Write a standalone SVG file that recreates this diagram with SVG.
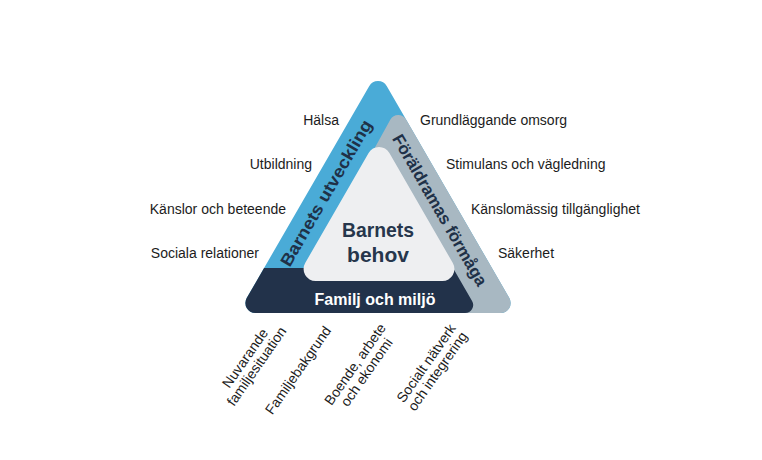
<svg xmlns="http://www.w3.org/2000/svg" width="762" height="460" viewBox="0 0 762 460">
<style>
.lbl{font-family:"Liberation Sans",Arial,sans-serif;font-size:14px;fill:#1c1c1c}
.band{font-family:"Liberation Sans",Arial,sans-serif;font-size:17px;font-weight:bold;fill:#1f3148}
.core{font-family:"Liberation Sans",Arial,sans-serif;font-size:21px;font-weight:bold;fill:#26364c;text-anchor:middle}
.fam{font-family:"Liberation Sans",Arial,sans-serif;font-size:16px;font-weight:bold;fill:#ffffff;text-anchor:middle}
.end{text-anchor:end}
.mid{text-anchor:middle}
</style>
<defs>
<clipPath id="outerClip">
<path d="M369.3,86 L246.7,298 A10,10 0 0,0 255.3,313 L500.7,313 A10,10 0 0,0 509.3,298 L386.7,86 A10,10 0 0,0 369.3,86 Z"/>
</clipPath>
</defs>
<rect width="762" height="460" fill="#ffffff"/>
<g id="triangle">
<g id="outer-blue">
<path d="M369.3,86 L246.7,298 A10,10 0 0,0 255.3,313 L500.7,313 A10,10 0 0,0 509.3,298 L386.7,86 A10,10 0 0,0 369.3,86 Z" fill="#4aabd7"/>
</g>
<g clip-path="url(#outerClip)">
<g id="grey-band">
<path d="M390.4,119.5 A9,9 0 0,1 406,119.5 L540,119.5 L540,340 L268.9,340 Z" fill="#a8b8c2"/>
</g>
<g id="dark-band">
<path d="M200,268 L453,268 L472.07,301 A8,8 0 0,1 465.14,313 L465.14,340 L200,340 Z" fill="#22324a"/>
</g>
</g>
<g id="core">
<path d="M368.61,153 L305.19,263 A12,12 0 0,0 315.58,281 L442.42,281 A12,12 0 0,0 452.81,263 L389.39,153 A12,12 0 0,0 368.61,153 Z" fill="#eeeff1"/>
<text class="core" x="378" y="237" textLength="72" lengthAdjust="spacingAndGlyphs">Barnets</text>
<text class="core" x="378" y="262">behov</text>
</g>
<g id="band-left">
<text class="band mid" transform="translate(326,193) rotate(-60)" dy="0.35em" textLength="166" lengthAdjust="spacingAndGlyphs">Barnets utveckling</text>
</g>
<g id="band-right">
<text class="band mid" transform="translate(440,210) rotate(60)" dy="0.35em" textLength="172" lengthAdjust="spacingAndGlyphs">Föräldramas förmåga</text>
</g>
<g id="band-bottom">
<text class="fam" x="375" y="305">Familj och miljö</text>
</g>
</g>
<g id="left-labels">
<text class="lbl end" x="339" y="125">Hälsa</text>
<text class="lbl end" x="312" y="169">Utbildning</text>
<text class="lbl end" x="286" y="214">Känslor och beteende</text>
<text class="lbl end" x="259" y="258">Sociala relationer</text>
</g>
<g id="right-labels">
<text class="lbl" x="420" y="125">Grundläggande omsorg</text>
<text class="lbl" x="446" y="169">Stimulans och vägledning</text>
<text class="lbl" x="471" y="214">Känslomässig tillgänglighet</text>
<text class="lbl" x="498" y="258">Säkerhet</text>
</g>
<g id="bottom-labels">
<g transform="translate(249,361) rotate(-55)">
<text class="lbl mid" x="0" y="0">Nuvarande</text>
<text class="lbl mid" x="0" y="14">familjesituation</text>
</g>
<g transform="translate(302,373) rotate(-55)">
<text class="lbl mid" x="0" y="0">Familjebakgrund</text>
</g>
<g transform="translate(359,367) rotate(-55)">
<text class="lbl mid" x="0" y="0">Boende, arbete</text>
<text class="lbl mid" x="0" y="14">och ekonomi</text>
</g>
<g transform="translate(430,366) rotate(-55)">
<text class="lbl mid" x="0" y="0">Socialt nätverk</text>
<text class="lbl mid" x="0" y="14">och integrering</text>
</g>
</g>
</svg>
